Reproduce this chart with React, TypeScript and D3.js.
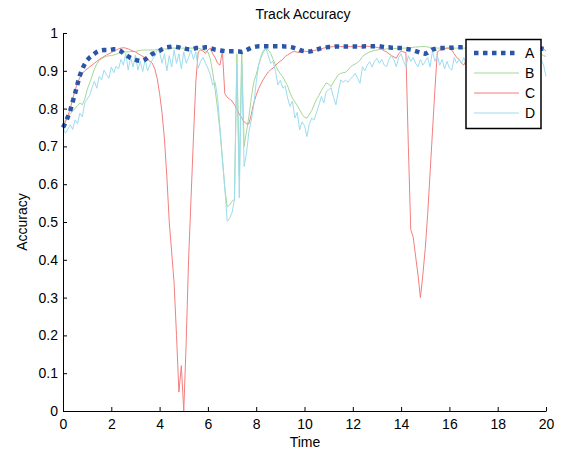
import React, { useEffect, useRef } from 'react';
import * as d3 from 'd3';

const chartTitle = 'Track Accuracy';
const xLabel = 'Time';
const yLabel = 'Accuracy';
const seriesNames = ['A', 'B', 'C', 'D'];
const seriesColors = ['#2b56a8', '#a3d995', '#f27f7f', '#9ddcee'];
const xTicks = [0, 2, 4, 6, 8, 10, 12, 14, 16, 18, 20];
const yTicks = [0, 0.1, 0.2, 0.3, 0.4, 0.5, 0.6, 0.7, 0.8, 0.9, 1];

// one value every 0.1 time units, t = 0 .. 20
const seriesA = [
  0.75, 0.762, 0.778, 0.795, 0.818, 0.84, 0.865, 0.888, 0.905, 0.918,
  0.928, 0.935, 0.94, 0.945, 0.95, 0.953, 0.954, 0.955, 0.955, 0.955,
  0.956, 0.957, 0.957, 0.955, 0.952, 0.946, 0.942, 0.938, 0.934, 0.931,
  0.929, 0.927, 0.926, 0.927, 0.93, 0.935, 0.94, 0.945, 0.947, 0.95,
  0.953, 0.957, 0.96, 0.962, 0.963, 0.964, 0.964, 0.963, 0.962, 0.96,
  0.96, 0.958, 0.957, 0.957, 0.958, 0.96, 0.96, 0.96, 0.961, 0.962,
  0.962, 0.96, 0.958, 0.956, 0.955, 0.954, 0.953, 0.952, 0.952, 0.952,
  0.952, 0.952, 0.951, 0.951, 0.95, 0.952, 0.955, 0.958, 0.961, 0.963,
  0.964, 0.965, 0.965, 0.965, 0.965, 0.965, 0.965, 0.965, 0.965, 0.965,
  0.965, 0.965, 0.964, 0.964, 0.963, 0.962, 0.96, 0.958, 0.955, 0.953,
  0.952, 0.951, 0.951, 0.952, 0.954, 0.956, 0.958, 0.96, 0.961, 0.962,
  0.963, 0.963, 0.963, 0.964, 0.964, 0.964, 0.964, 0.964, 0.964, 0.964,
  0.964, 0.964, 0.964, 0.964, 0.964, 0.965, 0.965, 0.965, 0.965, 0.965,
  0.965, 0.965, 0.964, 0.963, 0.962, 0.962, 0.961, 0.961, 0.96, 0.96,
  0.96, 0.96, 0.958, 0.957, 0.956, 0.954, 0.952, 0.95, 0.948, 0.946,
  0.945, 0.948, 0.952, 0.956, 0.958, 0.96, 0.96, 0.96, 0.96, 0.96,
  0.961, 0.961, 0.962, 0.962, 0.962, 0.962, 0.962, 0.962, 0.962, 0.962,
  0.962, 0.962, 0.962, 0.962, 0.962, 0.962, 0.962, 0.962, 0.962, 0.962,
  0.962, 0.962, 0.962, 0.962, 0.962, 0.962, 0.962, 0.962, 0.962, 0.962,
  0.962, 0.962, 0.962, 0.962, 0.962, 0.962, 0.961, 0.96, 0.959, 0.958,
  0.957,
];

const seriesB = [
  0.755, 0.77, 0.78, 0.785, 0.795, 0.8, 0.808, 0.815, 0.81, 0.825,
  0.85, 0.868, 0.885, 0.905, 0.918, 0.928, 0.932, 0.936, 0.938, 0.94,
  0.94, 0.942, 0.944, 0.946, 0.947, 0.948, 0.95, 0.95, 0.951, 0.951,
  0.951, 0.953, 0.954, 0.955, 0.955, 0.955, 0.955, 0.955, 0.955, 0.956,
  0.956, 0.957, 0.958, 0.958, 0.959, 0.96, 0.96, 0.96, 0.96, 0.96,
  0.96, 0.96, 0.96, 0.96, 0.96, 0.96, 0.96, 0.958, 0.956, 0.952,
  0.95, 0.932, 0.895, 0.85, 0.8, 0.74, 0.67, 0.59, 0.54, 0.545,
  0.555, 0.56, 0.945, 0.62, 0.955, 0.7, 0.74, 0.78, 0.83, 0.87,
  0.89, 0.915, 0.935, 0.95, 0.958, 0.955, 0.946, 0.93, 0.915, 0.902,
  0.892, 0.884, 0.872, 0.86, 0.842, 0.828, 0.818, 0.808, 0.797, 0.785,
  0.777, 0.775, 0.785, 0.795, 0.81, 0.825, 0.835, 0.848, 0.858, 0.868,
  0.865, 0.858, 0.87, 0.88, 0.89, 0.893, 0.895, 0.896, 0.902, 0.91,
  0.915, 0.918, 0.922, 0.928, 0.938, 0.943, 0.947, 0.95, 0.952, 0.954,
  0.955, 0.956, 0.957, 0.957, 0.958, 0.958, 0.958, 0.959, 0.959, 0.96,
  0.96, 0.96, 0.96, 0.96, 0.961, 0.962, 0.963, 0.963, 0.964, 0.964,
  0.964, 0.963, 0.962, 0.962, 0.961, 0.96, 0.96, 0.96, 0.96, 0.96,
  0.96, 0.96, 0.96, 0.96, 0.96, 0.96, 0.96, 0.96, 0.96, 0.96,
  0.96, 0.96, 0.96, 0.96, 0.96, 0.96, 0.96, 0.96, 0.96, 0.96,
  0.96, 0.96, 0.96, 0.96, 0.96, 0.96, 0.96, 0.96, 0.96, 0.96,
  0.96, 0.96, 0.958, 0.956, 0.954, 0.952, 0.95, 0.948, 0.944, 0.94,
  0.938,
];

const seriesC = [
  0.75, 0.765, 0.78, 0.8, 0.825, 0.848, 0.868, 0.882, 0.893, 0.9,
  0.905, 0.91, 0.915, 0.92, 0.925, 0.93, 0.934, 0.938, 0.942, 0.945,
  0.948, 0.952, 0.955, 0.958, 0.96, 0.961, 0.96, 0.958, 0.955, 0.952,
  0.95, 0.946, 0.942, 0.938, 0.935, 0.93, 0.925, 0.92, 0.905, 0.88,
  0.84, 0.79, 0.72, 0.62, 0.5, 0.42, 0.34, 0.2, 0.05, 0.12,
  0, 0.18, 0.4, 0.56, 0.72, 0.87, 0.95, 0.955, 0.952, 0.946,
  0.955, 0.96, 0.945, 0.935, 0.92, 0.915, 0.952, 0.84, 0.83, 0.825,
  0.82, 0.81, 0.8, 0.785, 0.775, 0.765, 0.76, 0.76, 0.785, 0.815,
  0.835, 0.853, 0.866, 0.878, 0.888, 0.897, 0.903, 0.907, 0.915, 0.92,
  0.926, 0.93, 0.938, 0.942, 0.946, 0.95, 0.951, 0.949, 0.948, 0.95,
  0.952, 0.951, 0.952, 0.953, 0.954, 0.955, 0.957, 0.958, 0.96, 0.962,
  0.963, 0.963, 0.964, 0.964, 0.965, 0.964, 0.964, 0.964, 0.964, 0.964,
  0.964, 0.965, 0.965, 0.964, 0.964, 0.965, 0.965, 0.964, 0.964, 0.963,
  0.962, 0.96, 0.957, 0.953, 0.95, 0.945, 0.94, 0.937, 0.933, 0.945,
  0.952, 0.95, 0.948, 0.7, 0.48, 0.46, 0.41, 0.36, 0.3, 0.36,
  0.43, 0.52, 0.63, 0.74, 0.85, 0.95, 0.955, 0.955, 0.958, 0.96,
  0.96, 0.955, 0.945, 0.935, 0.93, 0.92, 0.915, 0.93, 0.94, 0.95,
  0.955, 0.955, 0.955, 0.955, 0.955, 0.955, 0.955, 0.955, 0.955, 0.955,
  0.955, 0.955, 0.955, 0.955, 0.955, 0.955, 0.955, 0.955, 0.955, 0.955,
  0.955, 0.955, 0.955, 0.955, 0.955, 0.955, 0.955, 0.955, 0.958, 0.958,
  0.952,
];

const seriesD = [
  0.75, 0.735, 0.745, 0.757, 0.745, 0.77, 0.76, 0.788, 0.778, 0.815,
  0.825, 0.835, 0.855, 0.872, 0.854, 0.885, 0.876, 0.902, 0.89, 0.88,
  0.91, 0.895, 0.912, 0.905, 0.93, 0.915, 0.946, 0.902, 0.935, 0.91,
  0.942, 0.902, 0.925, 0.898, 0.93, 0.9, 0.915, 0.929, 0.94, 0.955,
  0.95, 0.92, 0.945, 0.9, 0.94, 0.91, 0.955, 0.92, 0.945, 0.905,
  0.95, 0.92, 0.935, 0.955, 0.93, 0.95, 0.907, 0.925, 0.935, 0.92,
  0.907, 0.89, 0.862, 0.87, 0.83, 0.75, 0.665, 0.59, 0.502, 0.51,
  0.525, 0.56, 0.92, 0.564, 0.92, 0.647, 0.683, 0.74, 0.77, 0.81,
  0.87, 0.915, 0.94, 0.955, 0.96, 0.94, 0.92, 0.925, 0.898, 0.863,
  0.875, 0.854, 0.86, 0.828, 0.806, 0.82, 0.775, 0.79, 0.744, 0.765,
  0.755, 0.726, 0.76, 0.775, 0.77, 0.79, 0.81, 0.832, 0.815, 0.845,
  0.85, 0.855, 0.83, 0.81, 0.845, 0.876, 0.87, 0.875, 0.87, 0.878,
  0.885, 0.893, 0.88, 0.867, 0.911, 0.9, 0.915, 0.924, 0.91, 0.925,
  0.933, 0.92, 0.93, 0.915, 0.911, 0.93, 0.94, 0.93, 0.911, 0.935,
  0.945, 0.925, 0.911, 0.94, 0.925, 0.935, 0.92, 0.911, 0.93, 0.915,
  0.925, 0.935, 0.91, 0.953, 0.925, 0.94, 0.915, 0.93, 0.905, 0.925,
  0.907, 0.902, 0.935, 0.92, 0.93, 0.92, 0.935, 0.915, 0.93, 0.92,
  0.935, 0.915, 0.93, 0.92, 0.94, 0.915, 0.93, 0.92, 0.935, 0.91,
  0.93, 0.92, 0.94, 0.915, 0.93, 0.92, 0.935, 0.915, 0.93, 0.92,
  0.935, 0.915, 0.93, 0.92, 0.935, 0.92, 0.93, 0.925, 0.93, 0.915,
  0.885,
];

const allSeries = [seriesA, seriesB, seriesC, seriesD];

export default function App() {
  const ref = useRef<SVGSVGElement>(null);

  useEffect(() => {
    if (!ref.current) return;
    const svg = d3.select(ref.current);
    svg.selectAll('*').remove();

    const font = '"Liberation Sans", Arial, Helvetica, sans-serif';

    svg.append('rect').attr('width', 561).attr('height', 451).attr('fill', '#fff');

    const x = d3.scaleLinear().domain([0, 20]).range([63, 546]);
    const y = d3.scaleLinear().domain([0, 1]).range([411, 33]);

    const line = d3
      .line<number>()
      .x((d, i) => x(i / 10))
      .y((d) => y(d));

    // B, C, D first, dotted A on top
    [1, 2, 3, 0].forEach((k) => {
      const p = svg
        .append('path')
        .datum(allSeries[k])
        .attr('fill', 'none')
        .attr('stroke', seriesColors[k])
        .attr('d', line);
      if (k === 0) {
        p.attr('stroke-width', 4.5).attr('stroke-dasharray', '4.5 4.5');
      } else {
        p.attr('stroke-width', 1);
      }
    });

    const xAxis = d3
      .axisBottom(x)
      .tickValues(xTicks)
      .tickSizeInner(-4)
      .tickSizeOuter(0)
      .tickPadding(8)
      .tickFormat((d) => String(d));
    const gx = svg.append('g').attr('transform', `translate(0,${y(0)})`).call(xAxis);

    const yAxis = d3
      .axisLeft(y)
      .tickValues(yTicks)
      .tickSizeInner(-4)
      .tickSizeOuter(0)
      .tickPadding(5)
      .tickFormat((d) => String(+(+d).toFixed(1)));
    const gy = svg.append('g').attr('transform', `translate(${x(0)},0)`).call(yAxis);

    [gx, gy].forEach((g) => {
      g.attr('font-size', 14).attr('font-family', font);
      g.selectAll('path, line').attr('stroke', '#000');
      g.selectAll('text').attr('fill', '#000');
    });

    svg
      .append('text')
      .attr('x', 303)
      .attr('y', 19)
      .attr('text-anchor', 'middle')
      .attr('font-family', font)
      .attr('font-size', 14)
      .text(chartTitle);

    svg
      .append('text')
      .attr('x', 305)
      .attr('y', 447)
      .attr('text-anchor', 'middle')
      .attr('font-family', font)
      .attr('font-size', 14)
      .text(xLabel);

    svg
      .append('text')
      .attr('transform', 'translate(27,222) rotate(-90)')
      .attr('text-anchor', 'middle')
      .attr('font-family', font)
      .attr('font-size', 14)
      .text(yLabel);

    // legend
    const legend = svg.append('g');
    legend
      .append('rect')
      .attr('x', 466)
      .attr('y', 39.5)
      .attr('width', 75)
      .attr('height', 89)
      .attr('fill', '#fff')
      .attr('stroke', '#000')
      .attr('stroke-width', 1.5);

    seriesNames.forEach((name, k) => {
      const ly = 53 + k * 20;
      const l = legend
        .append('line')
        .attr('x1', 474)
        .attr('x2', 519)
        .attr('y1', ly)
        .attr('y2', ly)
        .attr('stroke', seriesColors[k]);
      if (k === 0) {
        l.attr('stroke-width', 4.5).attr('stroke-dasharray', '4.5 4.5');
      } else {
        l.attr('stroke-width', 1);
      }
      legend
        .append('text')
        .attr('x', 525)
        .attr('y', ly + 5)
        .attr('font-family', font)
        .attr('font-size', 14)
        .text(name);
    });
  }, []);

  return (
    <svg
      ref={ref}
      width={561}
      height={451}
      style={{ position: 'absolute', left: 0, top: 0 }}
    />
  );
}
